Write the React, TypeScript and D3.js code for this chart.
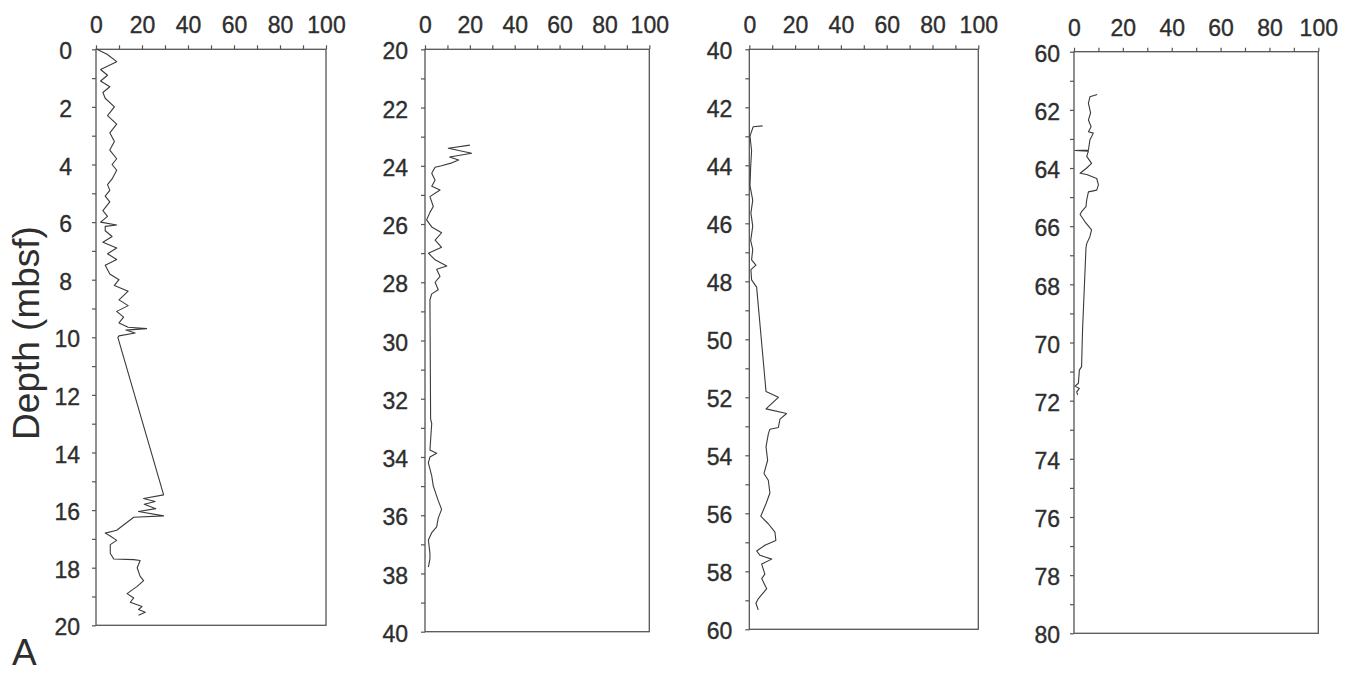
import React, { useRef, useEffect } from 'react'
import * as d3 from 'd3'

type Pt = [number, number]

// depth (mbsf), percent
const core1: Pt[] = [
  [0, 0.4], [0.17, 4.8], [0.43, 9], [0.7, 2], [0.9, 5], [1.1, 2], [1.3, 6], [1.5, 3], [1.7, 4],
  [2.0, 8], [2.3, 5], [2.6, 9], [2.9, 6], [3.2, 8], [3.5, 6], [3.8, 9], [4.0, 7], [4.2, 9],
  [4.5, 7], [4.7, 5], [4.9, 6], [5.1, 4], [5.3, 6], [5.6, 3], [5.8, 5], [6.0, 2], [6.1, 9],
  [6.15, 4], [6.3, 4], [6.5, 7], [6.7, 3], [6.9, 9], [7.1, 5], [7.3, 9], [7.5, 4], [7.8, 6],
  [8.0, 10], [8.2, 8], [8.4, 14], [8.7, 10], [8.9, 14], [9.1, 9], [9.3, 12], [9.5, 10],
  [9.65, 14], [9.7, 22], [9.75, 13], [9.85, 17], [9.95, 10], [10.0, 9.5], [15.47, 29.4],
  [15.6, 20.7], [15.7, 25.7], [15.8, 21], [15.95, 26], [16.05, 18.5], [16.2, 29.4],
  [16.25, 16.4], [16.7, 9], [16.8, 4], [16.9, 6.2], [17.05, 9], [17.2, 6.2], [17.5, 6.2],
  [17.7, 7.7], [17.72, 16.4], [17.75, 19.2], [18.0, 17.9], [18.3, 19.2], [18.45, 20.7],
  [18.65, 17.9], [18.9, 13.5], [19.05, 16.4], [19.2, 14.9], [19.35, 20], [19.45, 18.5],
  [19.55, 21.4], [19.65, 18.5],
]

const core2: Pt[] = [
  [23.29, 20], [23.4, 10.4], [23.57, 20.8], [23.7, 11], [23.8, 15], [23.9, 12], [24.0, 7.4],
  [24.05, 4.5], [24.26, 3], [24.5, 4.5], [24.7, 3], [24.83, 6.7], [25.06, 2.2], [25.4, 3.7],
  [25.6, 2.2], [25.86, 0.7], [26.1, 3], [26.3, 7.4], [26.55, 4.5], [26.8, 7.4], [27.0, 1.5],
  [27.23, 4.5], [27.44, 9.7], [27.55, 5.2], [27.8, 6.7], [28.0, 4.5], [28.26, 5.9], [28.4, 3],
  [28.6, 2.2], [32.7, 2.5], [32.85, 3], [33.76, 2.2], [33.87, 5.2], [34.0, 2.2], [34.2, 1.5],
  [34.65, 3], [35.0, 3.7], [35.5, 5.9], [35.8, 7.4], [36.1, 5.9], [36.4, 5.2], [36.6, 3],
  [36.85, 1.5], [37.3, 2.2], [37.5, 2.2], [37.78, 1.5],
]

const core3: Pt[] = [
  [42.64, 5.8], [42.67, 1.7], [42.9, 0.7], [43.0, 0.3], [43.5, 1], [44.05, 0.6], [44.7, 0.3],
  [45.2, 1.5], [45.65, 0.7], [46.1, 1.5], [46.6, 0.6], [46.9, 1.5], [47.26, 1], [47.44, 2.9],
  [47.6, 0.7], [47.95, 1], [48.2, 3.2], [51.8, 7.3], [52.0, 12.7], [52.4, 7.3], [52.56, 16.3],
  [52.75, 13.4], [53.04, 12.7], [53.1, 9], [53.27, 8.3], [53.7, 7.3], [54.17, 8], [54.63, 6.4],
  [54.86, 8.3], [55.3, 9], [55.67, 7.3], [56.1, 5], [56.36, 8.3], [56.65, 11.2], [56.94, 11.6],
  [57.1, 6.8], [57.3, 3.2], [57.45, 4.7], [57.58, 9.8], [57.75, 5.4], [58.1, 6.8], [58.25, 5.4],
  [58.6, 7.6], [58.95, 3.9], [59.1, 2.9], [59.33, 3.9],
]

const core4: Pt[] = [
  [61.47, 9.5], [61.55, 6.5], [61.78, 5.9], [62.1, 6.8], [62.35, 5.9], [62.58, 7], [62.75, 5.9],
  [62.8, 7.9], [63.04, 6.5], [63.38, 5.9], [63.4, 0.4], [63.42, 5.9], [63.6, 5.2], [63.84, 7.2],
  [64.0, 5.2], [64.18, 2.5], [64.22, 5.2], [64.36, 9.3], [64.58, 10], [64.76, 9.3], [64.82, 5.9],
  [65.1, 5.2], [65.33, 4.9], [65.5, 3.1], [65.6, 2.5], [65.85, 4.5], [66.13, 7.2], [66.36, 6.5],
  [66.6, 5.2], [66.75, 4.9], [69.57, 3.5], [70.83, 3.1], [70.95, 2.2], [71.4, 1.8], [71.5, 0.4],
  [71.58, 2.2], [71.7, 1.1], [71.8, 1.5],
]

const depthRanges: [number, number][] = [[0, 20], [20, 40], [40, 60], [60, 80]]
const cores = [core1, core2, core3, core4]
const pctTicks = d3.range(0, 101, 10)

// frame boxes of the four panels, in page pixels
const boxes = [
  { l: 96, r: 326, t: 49.3, b: 625.3, pad: 16 },
  { l: 425, r: 649.3, t: 49.3, b: 631.7, pad: 17 },
  { l: 749.3, r: 978.3, t: 49.3, b: 629.3, pad: 17 },
  { l: 1074, r: 1318.3, t: 51.7, b: 633.3, pad: 14 },
]

const font = "'Liberation Sans', Arial, sans-serif"
const ink = '#2e2e2e'

export default function App() {
  const ref = useRef<SVGSVGElement>(null)

  useEffect(() => {
    const svg = d3.select(ref.current)
    svg.selectAll('*').remove()

    boxes.forEach((bx, i) => {
      const x = d3.scaleLinear().domain([0, 100]).range([bx.l, bx.r])
      const y = d3.scaleLinear().domain(depthRanges[i]).range([bx.t, bx.b])
      const g = svg.append('g')

      g.append('rect')
        .attr('x', bx.l)
        .attr('y', bx.t)
        .attr('width', bx.r - bx.l)
        .attr('height', bx.b - bx.t)
        .attr('fill', 'none')
        .attr('stroke', '#555')
        .attr('stroke-width', 1.3)

      const top = g
        .append('g')
        .attr('transform', `translate(0,${bx.t})`)
        .call(
          d3
            .axisTop(x)
            .tickValues(pctTicks)
            .tickSize(4)
            .tickSizeOuter(0)
            .tickPadding(12)
            .tickFormat((d) => ((d as number) % 20 === 0 ? String(d) : '')),
        )
      top.select('.domain').remove()

      const [lo, hi] = depthRanges[i]
      const left = g
        .append('g')
        .attr('transform', `translate(${bx.l},0)`)
        .call(
          d3
            .axisLeft(y)
            .tickValues(d3.range(lo, hi + 1, 1))
            .tickSize(4)
            .tickSizeOuter(0)
            .tickFormat((d) => ((d as number) % 2 === 0 ? String(d) : '')),
        )
      left.select('.domain').remove()
      left
        .selectAll('text')
        .attr('x', function () {
          const s = d3.select(this).text()
          return s.length === 1 ? -24 : -bx.pad
        })
        .attr('dy', '0.42em')

      g.selectAll('.tick line').attr('stroke', '#555').attr('stroke-width', 1.2)
      g.selectAll('.tick text')
        .attr('fill', ink)
        .attr('stroke', ink)
        .attr('stroke-width', 0.35)
        .style('font-family', font)
        .style('font-size', '23px')

      const line = d3
        .line<Pt>()
        .x((d) => x(d[1]))
        .y((d) => y(d[0]))

      g.append('path')
        .datum(cores[i])
        .attr('d', line)
        .attr('fill', 'none')
        .attr('stroke', '#3a3a3a')
        .attr('stroke-width', 1.1)
        .attr('stroke-linejoin', 'round')
    })

    svg
      .append('text')
      .attr('transform', 'translate(39,333) rotate(-90)')
      .attr('text-anchor', 'middle')
      .attr('fill', ink)
      .style('font-family', font)
      .style('font-size', '37px')
      .text('Depth (mbsf)')

    svg
      .append('text')
      .attr('x', 12)
      .attr('y', 665)
      .attr('fill', ink)
      .style('font-family', font)
      .style('font-size', '37px')
      .text('A')
  }, [])

  return (
    <svg
      ref={ref}
      width={1368}
      height={674}
      style={{ position: 'absolute', left: 0, top: 0, background: '#fff' }}
    />
  )
}
